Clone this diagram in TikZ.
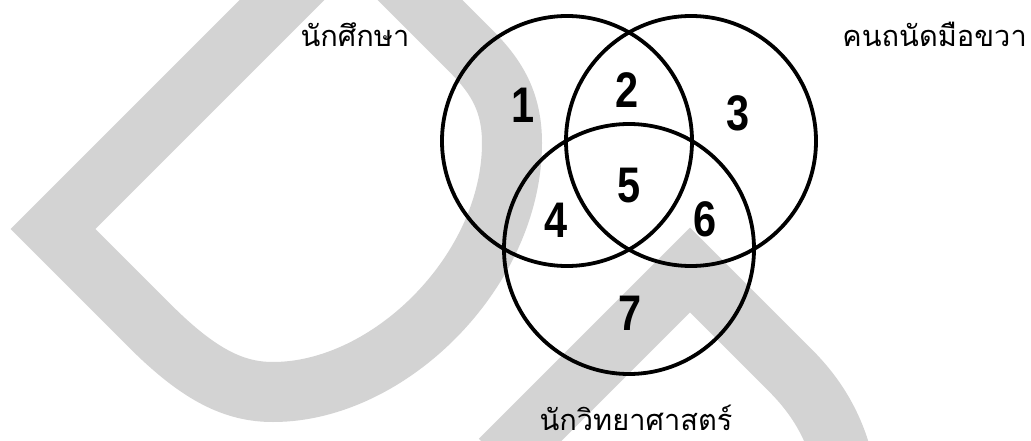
\documentclass[tikz,border=0pt]{standalone}
\usepackage{fontspec}
\newfontfamily\thai[Script=Thai]{Loma}
\newfontfamily\numf{Liberation Sans}[FakeStretch=0.83]
\definecolor{wmgray}{RGB}{211,211,211}
\begin{document}
\begin{tikzpicture}[x=1pt,y=-1pt,
  band/.style={draw=wmgray,line width=60pt,line join=miter},
  venn/.style={circle,draw=black,line width=3.8pt,minimum size=250pt,inner sep=0pt},
  num/.style={inner sep=0pt,font=\numf\bfseries\fontsize{50}{50}\selectfont},
  lab/.style={inner sep=0pt,anchor=base,font=\thai\fontsize{29}{29}\selectfont}]
\useasboundingbox (0,0) rectangle (1031,441);
\fill[white] (0,0) rectangle (1031,441);
\begin{scope}
\clip (0,0) rectangle (1031,441);
\draw[band] (351,-69) -- (53,229) -- (150,326) .. controls (200,376) and (235,392) .. (273,392)
  .. controls (390,392) and (512,270) .. (512,143) .. controls (512,100) and (495,75) .. (470,50) -- cycle;
\draw[band] (500,460) -- (690,270) -- (790,370) .. controls (815,395) and (835,425) .. (845,470);
\end{scope}
\node[venn] (A) at (567,141) {};
\node[venn] (B) at (691,141) {};
\node[venn] (C) at (629,249) {};
\node[num] (n1) at (523,105) {1};
\node[num] (n2) at (627,90) {2};
\node[num] (n3) at (738,113) {3};
\node[num] (n5) at (629,186) {5};
\node[num] (n4) at (556,220) {4};
\node[num] (n6) at (705,219) {6};
\node[num] (n7) at (630,313) {7};
\node[lab] (la) at (355,47) {นักศึกษา};
\node[lab,anchor=base east] (lb) at (1027,47) {คนถนัดมือขวา};
\node[lab] (lc) at (636,430) {นักวิทยาศาสตร์};
\end{tikzpicture}
\end{document}
